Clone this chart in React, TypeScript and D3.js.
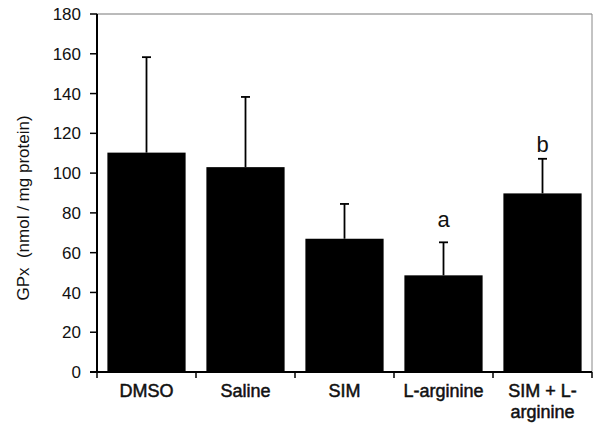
import React from "react";
import * as d3 from "d3";

const categories = ["DMSO", "Saline", "SIM", "L-arginine", "SIM + L-arginine"];
const labelLines = [["DMSO"], ["Saline"], ["SIM"], ["L-arginine"], ["SIM + L-", "arginine"]];
const means = [110.3, 103, 67, 48.6, 89.8];
const errors = [48, 35.3, 17.5, 16.6, 17.4];
const sigLetters = ["", "", "", "a", "b"];
const yTicks = [0, 20, 40, 60, 80, 100, 120, 140, 160, 180];

const W = 600;
const H = 428;
const left = 97;
const right = 592;
const top = 14;
const bottom = 372;

export default function App() {
  const x = d3
    .scaleBand<string>()
    .domain(categories)
    .range([left, right])
    .paddingInner(0.21)
    .paddingOuter(0.105);
  const y = d3.scaleLinear().domain([0, 180]).range([bottom, top]);
  const step = x.step();
  const gap = (step - x.bandwidth()) / 2;
  const font = "Liberation Sans, Arial, sans-serif";

  return (
    <svg
      width={W}
      height={H}
      style={{ position: "absolute", left: 0, top: 0, background: "#fff" }}
      fontFamily={font}
    >
      <rect x={0} y={0} width={W} height={H} fill="#fff" />
      {/* frame top and right */}
      <line x1={left} x2={right} y1={top} y2={top} stroke="#777" strokeWidth={1} />
      <line x1={right} x2={right} y1={top} y2={bottom} stroke="#888" strokeWidth={1} />
      {/* bars */}
      {categories.map((c, i) => (
        <rect
          key={c}
          x={x(c)!}
          y={y(means[i])}
          width={x.bandwidth()}
          height={bottom - y(means[i])}
          fill="#000"
        />
      ))}
      {/* error bars */}
      {categories.map((c, i) => {
        const cx = x(c)! + x.bandwidth() / 2;
        const yt = y(means[i] + errors[i]);
        return (
          <g key={"e" + c} stroke="#000" strokeWidth={1.8}>
            <line x1={cx} x2={cx} y1={y(means[i])} y2={yt} />
            <line x1={cx - 4.5} x2={cx + 4.5} y1={yt} y2={yt} />
          </g>
        );
      })}
      {/* significance letters */}
      {categories.map((c, i) =>
        sigLetters[i] ? (
          <text
            key={"s" + c}
            x={x(c)! + x.bandwidth() / 2}
            y={y(means[i] + errors[i]) - (sigLetters[i] === "a" ? 15 : 7)}
            textAnchor="middle"
            fontSize={22}
            fill="#111"
          >
            {sigLetters[i]}
          </text>
        ) : null
      )}
      {/* y axis */}
      <line x1={left} x2={left} y1={top} y2={bottom + 1} stroke="#000" strokeWidth={2} />
      {yTicks.map((t) => (
        <g key={"yt" + t}>
          <line x1={left - 7} x2={left} y1={y(t)} y2={y(t)} stroke="#000" strokeWidth={1.5} />
          <text
            x={left - 16}
            y={y(t)}
            dy="0.36em"
            textAnchor="end"
            fontSize={17}
            fill="#111"
          >
            {t}
          </text>
        </g>
      ))}
      {/* x axis */}
      <line x1={left - 7} x2={right} y1={bottom} y2={bottom} stroke="#000" strokeWidth={2} />
      {categories.map((c) => (
        <line
          key={"xt" + c}
          x1={x(c)! - gap}
          x2={x(c)! - gap}
          y1={bottom}
          y2={bottom + 6}
          stroke="#000"
          strokeWidth={1.5}
        />
      ))}
      <line x1={right} x2={right} y1={bottom} y2={bottom + 6} stroke="#000" strokeWidth={1.5} />
      {categories.map((c, i) => (
        <text
          key={"xl" + c}
          x={x(c)! + x.bandwidth() / 2}
          y={397}
          textAnchor="middle"
          fontSize={18}
          fill="#111"
          stroke="#111"
          strokeWidth={0.5}
        >
          {labelLines[i].map((l, j) => (
            <tspan key={j} x={x(c)! + x.bandwidth() / 2} dy={j === 0 ? 0 : 21}>
              {l}
            </tspan>
          ))}
        </text>
      ))}
      {/* y label */}
      <text
        transform={`translate(29, 208) rotate(-90)`}
        textAnchor="middle"
        fontSize={17}
        fill="#111"
        style={{ whiteSpace: "pre" }}
      >
        {"GPx  (nmol / mg protein)"}
      </text>
    </svg>
  );
}
